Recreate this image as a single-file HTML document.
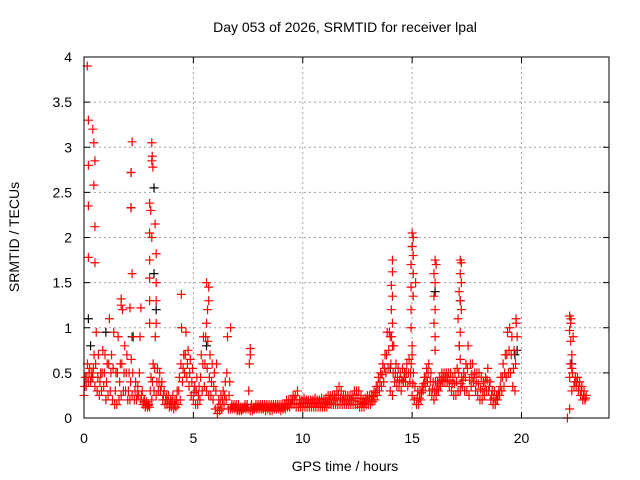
<!DOCTYPE html>
<html><head><meta charset="utf-8"><style>
html,body{margin:0;padding:0;background:#fff;}
svg{display:block;font-family:"Liberation Sans",sans-serif;}
</style></head><body>
<svg id="chart" width="640" height="480" viewBox="0 0 640 480" xmlns="http://www.w3.org/2000/svg">
<text x="345" y="32" font-size="14" text-anchor="middle">Day 053 of 2026, SRMTID for receiver lpal</text>
<text transform="translate(19,237) rotate(-90)" font-size="14" text-anchor="middle">SRMTID / TECUs</text>
<text x="345" y="471" font-size="14" text-anchor="middle">GPS time / hours</text>
<g id="grid"></g>
<g id="ticks"></g>
<g id="blackSeries"></g>
<g id="redSeries"></g>
<rect x="84" y="57" width="525" height="361" fill="none" stroke="#000" stroke-width="1"/>
</svg>
<script>
const xTicks=[0,5,10,15,20];
const yTicks=[0,0.5,1,1.5,2,2.5,3,3.5,4];
const yTickLabels=["0","0.5","1","1.5","2","2.5","3","3.5","4"];
const seg1Start=0, step=0.1;
const seg1Lo=[.25,.35,.4,.4,.45,.35,.3,.25,.3,.35, .2,.25,.3,.2,.15,.15,.2,.25,.3,.3, .2,.2,.25,.2,.2,.25,.2,.15,.12,.12, .12,.2,.3,.25,.3,.3,.2,.15,.15,.12, .12,.1,.12,.15,.2,.4,.5,.45,.35,.25, .2,.15,.15,.2,.3,.35,.3,.25,.25,.2, .1,.05,.08,.1,.15,.2,.1,.1,.1,.1, .08,.08,.08,.1,.1,.1,.08,.08,.1,.1, .1,.1,.1,.08,.1,.08,.08,.1,.1,.1, .08,.1,.1,.12,.12,.15,.15,.12,.12,.12, .12,.12,.12,.12,.12,.12,.12,.12,.12,.12, .12,.12,.15,.15,.15,.15,.15,.15,.15,.15, .15,.15,.15,.15,.15,.15,.12,.12,.12,.15, .15,.15,.18,.2,.25,.3,.35,.4,.5,.55, .3,.25,.4,.35,.35,.3,.4,.4,.35,.4, .25,.2,.15,.15,.2,.3,.35,.4,.3,.25, .2,.25,.3,.35,.4,.4,.4,.35,.3,.25, .25,.3,.3,.35,.3,.3,.25,.35,.4,.3, .25,.2,.2,.25,.3,.3,.2,.15,.15,.2, .25,.3,.35,.45,.5,.5,.35,.3];
const seg1Mid=[.35,.45,.5,.45,.55,.6,.45,.4,.5,.5, .4,.6,.5,.55,.3,.5,.4,.6,.5,.5, .3,.4,.5,.3,.25,.5,.25,.18,.15,.14, .3,.4,.55,.4,.4,.35,.25,.2,.2,.16, .18,.15,.2,.3,.6,.55,.7,.6,.5,.4, .28,.3,.25,.45,.6,.6,.55,.45,.4,.35, .3,.12,.15,.2,.25,.5,.25,.12,.12,.12, .1,.1,.1,.12,.12,.3,.12,.1,.12,.12, .12,.12,.12,.12,.12,.12,.12,.12,.12,.12, .12,.12,.15,.15,.16,.2,.2,.2,.16,.16, .17,.16,.16,.16,.16,.17,.16,.16,.17,.16, .17,.18,.2,.2,.2,.22,.25,.22,.2,.2, .2,.2,.2,.22,.22,.22,.18,.16,.17,.2, .2,.2,.24,.28,.35,.4,.48,.55,.7,.75, .6,.5,.5,.45,.42,.42,.45,.5,.5,.5, .38,.35,.22,.22,.28,.38,.45,.5,.4,.32, .3,.32,.38,.42,.45,.45,.45,.42,.38,.38, .4,.5,.38,.42,.45,.55,.42,.48,.45,.4, .38,.32,.3,.35,.42,.35,.25,.22,.2,.25, .35,.45,.5,.7,.75,.7,.55,.6];
const seg1Hi=[.45,.6,.55,.5,.7,.95,.7,.5,.75,.7, .6,1.1,.7,.95,.5,.9,.6,1.2,.8,.7, .5,.65,.9,.4,.35,.9,.3,.2,.18,.15, .45,.6,.9,.55,.5,.4,.3,.25,.25,.2, .25,.2,.3,.45,1.0,.7,.95,.75,.65,.55, .35,.45,.35,.7,.9,.9,.85,.7,.6,.5, .6,.2,.25,.3,.4,.9,.4,.15,.15,.15, .15,.12,.12,.15,.15,.6,.15,.12,.15,.15, .15,.15,.15,.15,.15,.15,.15,.15,.15,.15, .15,.15,.2,.2,.2,.25,.25,.3,.2,.2, .22,.2,.2,.2,.2,.22,.2,.2,.22,.2, .22,.25,.25,.25,.25,.3,.35,.3,.25,.25, .25,.25,.25,.3,.3,.3,.25,.2,.22,.25, .25,.25,.3,.35,.45,.5,.6,.7,.95,.95, .9,.8,.6,.55,.5,.55,.5,.6,.65,.6, .5,1.5,.3,.3,.35,.45,.55,.6,.5,.4, .4,.4,.45,.5,.5,.5,.5,.5,.45,.5, .55,.8,.45,.5,.6,.8,.6,.6,.5,.5, .5,.45,.4,.45,.55,.4,.3,.3,.25,.3, .45,.6,.7,.95,1.0,.9,.75,1.05];
const seg2Start=22.2;
const seg2Lo=[.1,.3,.35,.35,.3,.25,.2,.2];
const seg2Mid=[.6,.5,.4,.4,.35,.3,.25,.22];
const seg2Hi=[1.1,.9,.45,.45,.4,.35,.3,.25];
const spikeT=[0.15,0.2,0.4,0.45,0.2,0.5,0.45,0.2,0.5,0.2,0.5,2.2,2.15,2.15,2.2,3.1,3.12,3.1,3.15,3.0,3.05,3.1,3.25,3.0,3.3,3.0,3.0,3.3,3.0,3.3,3.3,3.0,1.7,1.7,2.1,2.6,4.45,5.6,5.7,5.7,5.65,5.6,6.7,7.6,7.6,14.1,14.1,14.05,14.1,14.05,14.1,14.0,14.1,15.0,15.05,15.0,15.05,14.95,15.05,14.95,15.05,14.95,14.95,15.0,15.0,16.05,16.1,16.0,16.05,16.0,16.05,16.0,16.05,16.05,17.2,17.25,17.2,17.25,17.15,17.2,17.25,17.1,17.2,17.15,17.2,22.2,22.25,22.2,22.25,22.3,22.3,22.2,22.1,19.75,19.8];
const spikeV=[3.9,3.3,3.2,3.05,2.8,2.85,2.58,2.35,2.12,1.78,1.72,3.06,2.72,2.33,1.6,3.05,2.9,2.85,2.78,2.38,2.3,2.0,2.15,2.05,1.82,1.75,1.55,1.5,1.3,1.3,1.05,1.05,1.32,1.25,1.22,1.22,1.37,1.5,1.45,1.3,1.2,1.05,1.0,0.77,0.7,1.75,1.62,1.47,1.35,1.2,1.05,0.9,0.8,2.05,2.0,1.9,1.8,1.7,1.6,1.45,1.35,1.2,1.0,0.8,0.7,1.75,1.7,1.6,1.5,1.35,1.2,1.05,0.9,0.75,1.75,1.72,1.6,1.5,1.4,1.3,1.2,1.1,0.95,0.8,0.65,1.13,1.05,0.97,0.85,0.7,0.55,0.45,0.0,1.1,0.9];
const blackT=[0.2,0.3,1.0,2.2,3.2,3.2,3.3,5.6,14.0,15.0,16.05,17.2,19.7,19.8,22.3,2.15,2.15];
const blackV=[1.1,0.8,0.95,0.9,2.55,1.6,1.2,0.8,0.55,1.9,1.4,1.3,0.7,0.75,0.6,2.72,2.33];

const X0=84,X1=609,Y0=418,Y1=57;
const xs=t=>X0+t/24*(X1-X0);
const ys=v=>Y0-v/4*(Y0-Y1);
const NS="http://www.w3.org/2000/svg";
function mk(tag,parent){const e=document.createElementNS(NS,tag);parent.appendChild(e);return e;}
const grid=document.getElementById('grid'),ticks=document.getElementById('ticks');
xTicks.forEach(t=>{
  const x=xs(t);
  if(t>0){const l=mk('line',grid);
  
  
  l.setAttribute('x1',x);l.setAttribute('x2',x);l.setAttribute('y1',Y1);l.setAttribute('y2',Y0);l.setAttribute('stroke','#a0a0a0');l.setAttribute('stroke-dasharray','2,3');}
  const tk=mk('path',ticks);
  
  
  tk.setAttribute('d',`M${x},${Y0}v-6M${x},${Y1}v6`);tk.setAttribute('stroke','#000');
  const tx=mk('text',ticks);
  
  
  tx.setAttribute('x',x);tx.setAttribute('y',443);tx.setAttribute('font-size','14');tx.setAttribute('text-anchor','middle');tx.textContent=String(t);
});
yTicks.forEach((v,i)=>{
  const y=ys(v);
  if(v>0&&v<4){const l=mk('line',grid);
  
  
  l.setAttribute('x1',X0);l.setAttribute('x2',X1);l.setAttribute('y1',y);l.setAttribute('y2',y);l.setAttribute('stroke','#a0a0a0');l.setAttribute('stroke-dasharray','2,3');}
  const tk=mk('path',ticks);
  
  
  tk.setAttribute('d',`M${X0},${y}h6M${X1},${y}h-6`);tk.setAttribute('stroke','#000');
  const tx=mk('text',ticks);
  
  
  tx.setAttribute('x',72);tx.setAttribute('y',y+5);tx.setAttribute('font-size','14');tx.setAttribute('text-anchor','end');tx.textContent=yTickLabels[i];
});
function plus(parent,t,v,color,name){
  const x=xs(t),y=ys(v);
  const p=mk('path',parent);
  
  
  p.setAttribute('d',`M${x-4.5},${y}h9M${x},${y-4.5}v9`);
  p.setAttribute('stroke',color);p.setAttribute('stroke-width','1.2');
}
const red=document.getElementById('redSeries'),blk=document.getElementById('blackSeries');
blackT.forEach((t,i)=>plus(blk,t,blackV[i],'#000','black-point'));
seg1Lo.forEach((v,i)=>{const t=seg1Start+i*step;plus(red,t,v,'#f00','red-point');plus(red,t+0.03,seg1Mid[i],'#f00','red-point');plus(red,t+0.06,seg1Hi[i],'#f00','red-point');});
seg2Lo.forEach((v,i)=>{const t=seg2Start+i*step;plus(red,t,v,'#f00','red-point');plus(red,t+0.03,seg2Mid[i],'#f00','red-point');plus(red,t+0.06,seg2Hi[i],'#f00','red-point');});
spikeT.forEach((t,i)=>plus(red,t,spikeV[i],'#f00','red-point'));
</script>
</body></html>
